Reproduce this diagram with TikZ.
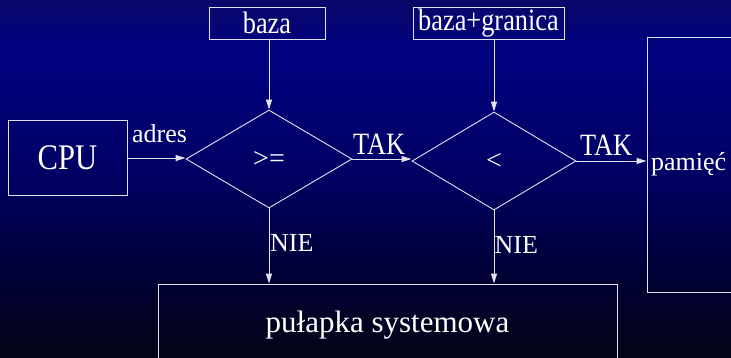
\documentclass[tikz,border=0pt]{standalone}
\usepackage{fontspec}
\setmainfont{Liberation Serif}
\newfontfamily\narrowserif[FakeStretch=0.85]{Liberation Serif}
\usetikzlibrary{shapes.geometric,arrows.meta,calc}

\definecolor{bgtop}{RGB}{8,8,104}
\definecolor{bghi}{RGB}{2,2,130}
\definecolor{bgmid}{RGB}{0,0,98}
\definecolor{bglow}{RGB}{0,0,52}
\definecolor{bgbot}{RGB}{4,4,22}
\definecolor{ink}{RGB}{226,226,236}

% path maps onto 25bp (bottom) .. 75bp (top)
\pgfdeclareverticalshading{slidebg}{100bp}{%
  color(0bp)=(bgbot); color(25bp)=(bgbot); color(36bp)=(bglow);
  color(50bp)=(bgmid); color(68bp)=(bghi); color(75bp)=(bgtop);
  color(100bp)=(bgtop)}

\tikzset{
  box/.style={draw=ink, line width=0.9pt, rectangle, inner sep=0pt, text=white},
  decision/.style={draw=ink, line width=0.9pt, diamond, inner sep=0pt, text=white},
  flow/.style={draw=ink, line width=0.9pt, -{Triangle[length=10pt,width=6pt]}},
  lbl/.style={inner sep=0pt, text=white, font=\fontsize{26}{26}\selectfont},
  narrowlbl/.style={lbl, font=\narrowserif\fontsize{31}{31}\selectfont},
}

\begin{document}
\begin{tikzpicture}[x=1pt,y=-1pt]
  \useasboundingbox (0,0) rectangle (731,357);
  \clip (0,0) rectangle (731,357);
  \shade[shading=slidebg] (0,0) rectangle (731,357);

  % boxes
  \node[box, minimum width=119pt, minimum height=75pt,
        font=\narrowserif\fontsize{36}{36}\selectfont] (cpu) at (67.5,158) {CPU};
  \node[box, minimum width=116pt, minimum height=32pt,
        font=\narrowserif\fontsize{31}{31}\selectfont] (baza) at (267,23) {baza};
  \node[box, minimum width=151pt, minimum height=32pt,
        font=\narrowserif\fontsize{31}{31}\selectfont] (granica) at (488.5,23) {baza+granica};
  \node[box, minimum width=140pt, minimum height=255pt,
        text width=132pt, align=left,
        font=\fontsize{26}{26}\selectfont] (mem) at (717,164.5) {pamięć};
  \node[box, minimum width=459pt, minimum height=82pt,
        font=\fontsize{31}{31}\selectfont] (trap) at (387.5,325) {pułapka systemowa};

  % decisions
  \node[decision, minimum width=166pt, minimum height=98pt,
        font=\fontsize{28}{28}\selectfont] (ge) at (269,159) {>=};
  \node[decision, minimum width=164pt, minimum height=98pt,
        font=\fontsize{28}{28}\selectfont] (lt) at (494,161) {<};

  % connectors
  \draw[flow] (cpu.east) -- (cpu.east -| ge.west);
  \draw[flow] (ge.east) -- (ge.east -| lt.west);
  \draw[flow] (lt.east) -- (lt.east -| mem.west);
  \draw[flow] (ge.north |- baza.south) -- (ge.north);
  \draw[flow] (lt.north |- granica.south) -- (lt.north);
  \draw[flow] (ge.south) -- (ge.south |- trap.north);
  \draw[flow] (lt.south) -- (lt.south |- trap.north);

  % connector labels
  \node[lbl, anchor=base west] (adres) at (132,142) {adres};
  \node[narrowlbl, anchor=base west] (tak1) at (353,154) {TAK};
  \node[narrowlbl, anchor=base west] (tak2) at (580,155) {TAK};
  \node[lbl, anchor=base west] (nie1) at (270,251) {NIE};
  \node[lbl, anchor=base west] (nie2) at (494.5,253) {NIE};
\end{tikzpicture}
\end{document}
